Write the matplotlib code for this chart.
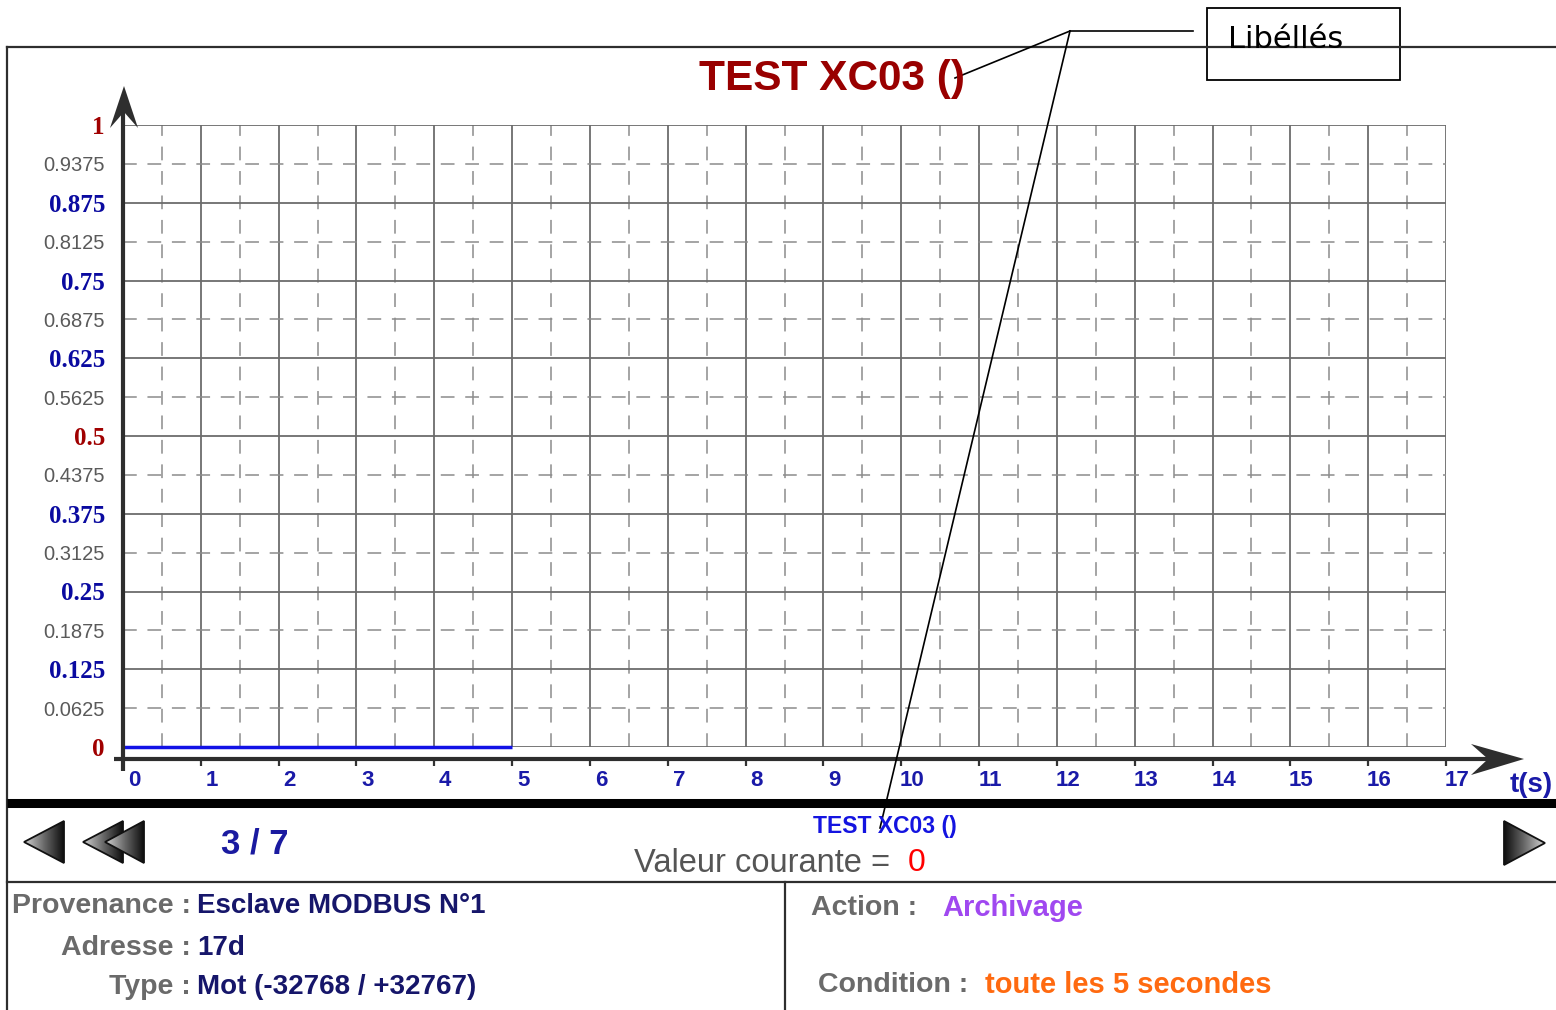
import matplotlib
matplotlib.use("Agg")
import matplotlib.pyplot as plt
import matplotlib.transforms as mtransforms
from matplotlib.patches import Polygon, Rectangle
from matplotlib.colors import LinearSegmentedColormap
import numpy as np

# --- data -------------------------------------------------------------
title = "TEST XC03 ()"
x_ticks = [0, 1, 2, 3, 4, 5, 6, 7, 8, 9, 10, 11, 12, 13, 14, 15, 16, 17]
y_ticks = [0, 0.0625, 0.125, 0.1875, 0.25, 0.3125, 0.375, 0.4375, 0.5,
           0.5625, 0.625, 0.6875, 0.75, 0.8125, 0.875, 0.9375, 1]
t_values = [0, 5]
v_values = [0, 0]
x_unit = "t(s)"
page, n_pages = 3, 7
current_value = 0
info_left = [("Provenance :", "Esclave MODBUS N°1"),
             ("Adresse :", "17d"),
             ("Type :", "Mot (-32768 / +32767)")]
info_right = [("Action :", "Archivage"),
              ("Condition :", "toute les 5 secondes")]
callout = "Libéllés"

W, H = 1556, 1010
fig = plt.figure(figsize=(W / 100, H / 100), dpi=100)
fig.patch.set_facecolor("white")

# --- chart axes -------------------------------------------------------
ax = fig.add_axes([123 / W, (H - 747) / H, 1323 / W, 622 / H], zorder=1)
ax.set_xlim(0, 17)
ax.set_ylim(0, 1)
ax.set_facecolor("none")
for s in ax.spines.values():
    s.set_visible(False)
ax.spines["bottom"].set_position(("outward", 8.6))

ax.set_xticks(x_ticks)
ax.set_xticks(np.arange(0.5, 17, 1), minor=True)
ax.set_yticks(y_ticks)
ax.set_yticks([], minor=True)
ax.tick_params(axis="x", which="major", direction="out", length=5, width=1.6,
               color="#333333", labelbottom=False)
ax.tick_params(axis="x", which="minor", length=0)
ax.tick_params(axis="y", length=0, pad=13)

# solid grid at integers / multiples of 0.125, dashed in between
for xv in x_ticks:
    ax.axvline(xv, color="#6c6c6c", lw=1.3, zorder=0)
for xv in np.arange(0.5, 17, 1):
    ax.axvline(xv, color="#8c8c8c", lw=1.1, dashes=(9, 7), zorder=0)
for i, yv in enumerate(y_ticks):
    if i % 2 == 0:
        ax.axhline(yv, color="#6c6c6c", lw=1.3, zorder=0)
    else:
        ax.axhline(yv, color="#8c8c8c", lw=1.1, dashes=(9, 7), zorder=0)

ax.set_yticklabels([f"{v:g}" for v in y_ticks])
for i, lab in enumerate(ax.get_yticklabels()):
    v = y_ticks[i]
    if i % 2 == 1:
        lab.set_fontfamily("Liberation Sans")
        lab.set_fontsize(14.5)
        lab.set_color("#5a5a5a")
    else:
        lab.set_fontfamily("Liberation Serif")
        lab.set_fontweight("bold")
        lab.set_fontsize(18)
        lab.set_color("#a00000" if v in (0, 0.5, 1) else "#0a0aa0")

# x labels sit a little to the right of their tick
off = mtransforms.ScaledTranslation(0.11, -0.225, fig.dpi_scale_trans)
for xv in x_ticks:
    ax.text(xv, 0, str(xv), transform=ax.get_xaxis_transform() + off,
            ha="center", va="top", fontsize=16, fontweight="bold",
            family="Liberation Sans", color="#1a1aa8", clip_on=False)

ax.plot(t_values, v_values, color="#1212e6", lw=2.5, solid_capstyle="butt",
        clip_on=False, zorder=3)

# --- overlay for the panel decorations --------------------------------
ov = fig.add_axes([0, 0, 1, 1], zorder=3)
ov.set_xlim(0, W)
ov.set_ylim(H, 0)
ov.axis("off")
ov.patch.set_alpha(0)

dark = "#2e2e2e"
# frame
ov.plot([7, W], [47, 47], color=dark, lw=1.6)
ov.plot([7, 7], [47, H], color=dark, lw=1.6)
ov.plot([7, W], [802.5, 802.5], color="black", lw=6.5, solid_capstyle="butt")
ov.plot([7, W], [882, 882], color=dark, lw=1.6)
ov.plot([785, 785], [882, H], color=dark, lw=1.6)

# axis lines and arrows
ov.plot([114, 1500], [759, 759], color=dark, lw=3, solid_capstyle="butt")
ov.plot([123, 123], [771, 105], color=dark, lw=3, solid_capstyle="butt")
ov.add_patch(Polygon([(124, 86), (110, 128), (124, 112), (138, 128)],
                     closed=True, color=dark, lw=0))
ov.add_patch(Polygon([(1524, 759), (1471, 744), (1488, 759), (1471, 775)],
                     closed=True, color=dark, lw=0))
ov.text(1531, 785, x_unit, ha="center", va="center", fontsize=20,
        fontweight="bold", family="Liberation Sans", color="#1a1aa8")

# title
ov.text(832, 79, title, ha="center", va="center", fontsize=30.5,
        fontweight="bold", family="Liberation Sans", color="#990000")

# callout
ov.add_patch(Rectangle((1207, 8), 193, 72, fill=False, ec="black", lw=1.3))
ov.text(1228, 40, callout, ha="left", va="center", fontsize=22,
        family="DejaVu Sans", color="black")
ov.plot([1193, 1070], [31, 31], color="black", lw=1.2)
ov.plot([1070, 955], [31, 78], color="black", lw=1.2)
ov.plot([1070, 880], [31, 828], color="black", lw=1.2)

# navigation arrows with a grey gradient
grad = LinearSegmentedColormap.from_list("g", ["#d0d0d0", "#6a6a6a", "#0e0e0e"])
def nav_arrow(pts, z, reverse=False):
    xs = [p[0] for p in pts]
    ys = [p[1] for p in pts]
    g = np.linspace(0, 1, 64)[None, :]
    if reverse:
        g = g[:, ::-1]
    im = ov.imshow(g, cmap=grad, extent=(min(xs), max(xs), max(ys), min(ys)),
                   aspect="auto", zorder=z)
    poly = Polygon(pts, closed=True, fc="none", ec="#111111", lw=1.3,
                   zorder=z + 0.5)
    ov.add_patch(poly)
    im.set_clip_path(poly)

nav_arrow([(24, 842), (64, 821), (64, 863)], 2)
nav_arrow([(83, 842), (123, 821), (123, 863)], 2)
nav_arrow([(105, 842), (144, 821), (144, 863)], 3)
nav_arrow([(1504, 821), (1504, 865), (1545, 843)], 2, reverse=True)
ov.set_xlim(0, W)
ov.set_ylim(H, 0)

ov.text(255, 844, f"{page} / {n_pages}", ha="center", va="center",
        fontsize=25, fontweight="bold",
        family=["Liberation Sans Narrow", "Liberation Sans"], color="#1a1aa0")
ov.text(885, 827, title, ha="center", va="center", fontsize=16.5,
        fontweight="bold", family=["Liberation Sans Narrow", "Liberation Sans"],
        color="#1414e0")
ov.text(890, 863, "Valeur courante =", ha="right", va="center", fontsize=23.5,
        family="Liberation Sans", color="#555555")
ov.text(908, 863, str(current_value), ha="left", va="center", fontsize=23,
        family="Liberation Sans", color="#ff0000")

# info block
label_col = "#6a6a6a"
rows_y = [906, 948, 987]
for (lab, val), yy in zip(info_left, rows_y):
    ov.text(191, yy, lab, ha="right", va="center", fontsize=20.5,
            fontweight="bold", family="Liberation Sans", color=label_col)
    ov.text(197, yy, val, ha="left", va="center", fontsize=20,
            fontweight="bold", family="Liberation Sans", color="#16166a")

right_y = [908, 985]
right_x = [811, 818]
value_x = [942, 985]
value_col = ["#a048f0", "#ff6a10"]
for i, (lab, val) in enumerate(info_right):
    ov.text(right_x[i], right_y[i], lab, ha="left", va="center", fontsize=20.5,
            fontweight="bold", family="Liberation Sans", color=label_col)
    ov.text(value_x[i], right_y[i], val, ha="left", va="center",
            fontsize=21, fontweight="bold", family="Liberation Sans",
            color=value_col[i])

fig.savefig("out.png", dpi=100)
